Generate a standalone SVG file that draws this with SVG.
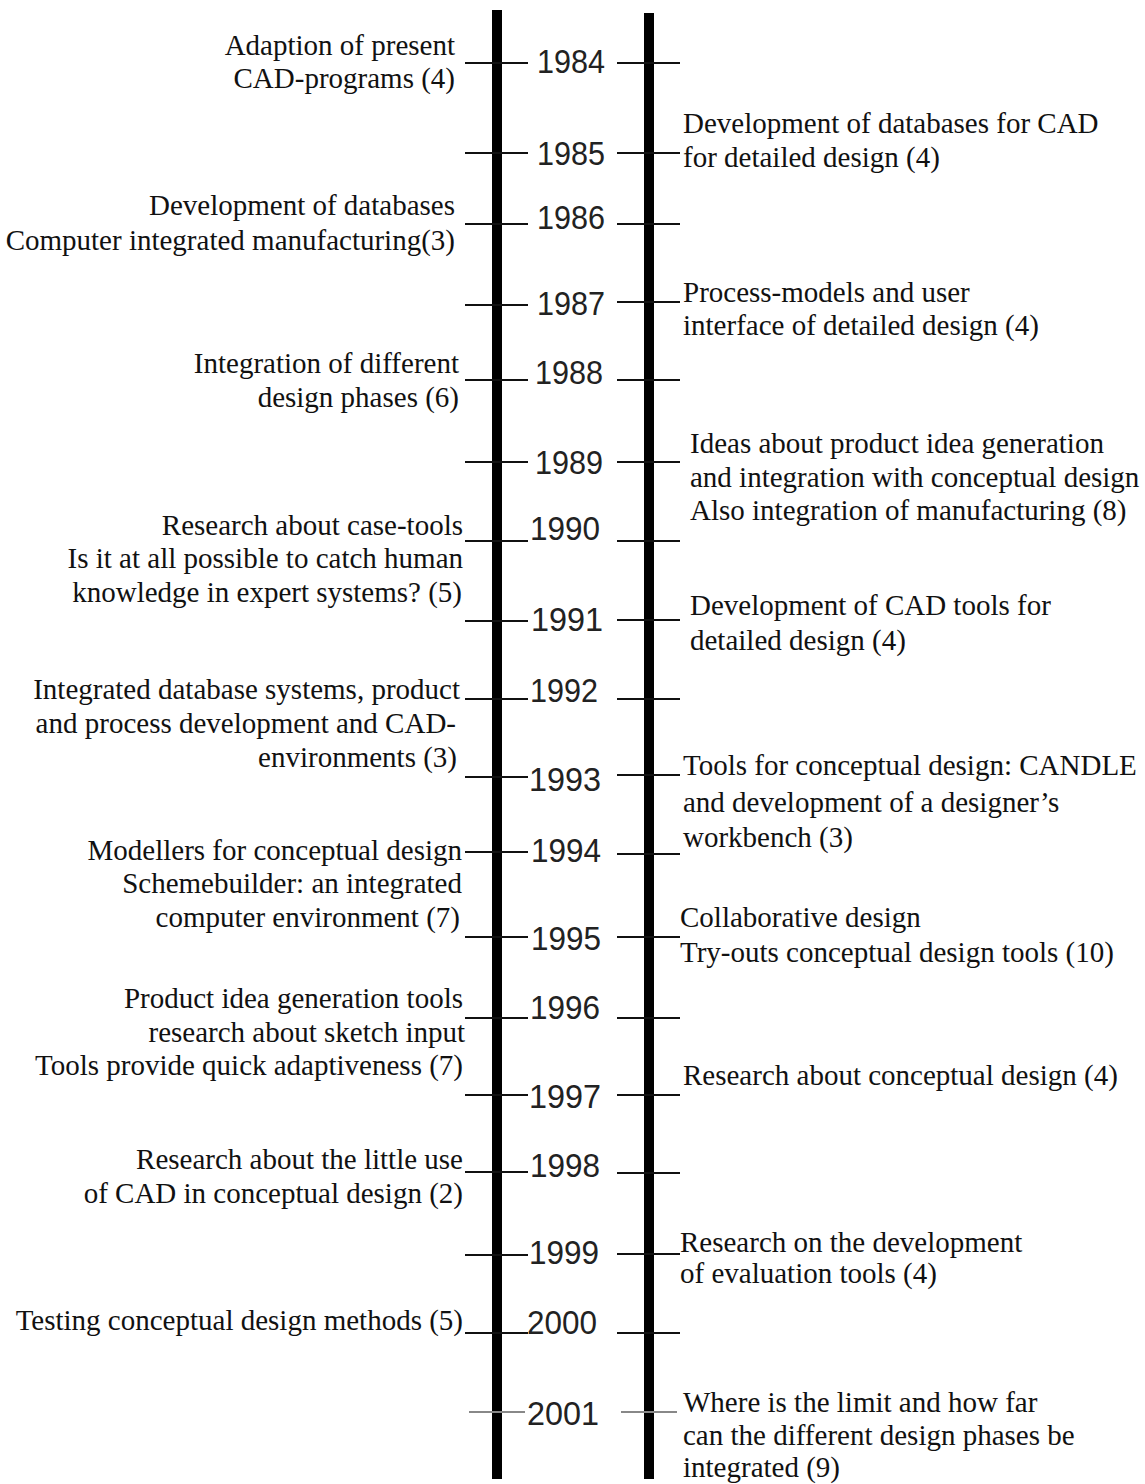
<svg xmlns="http://www.w3.org/2000/svg" width="1145" height="1484" viewBox="0 0 1145 1484">
<style>
.lbl{font-family:"Liberation Serif","DejaVu Serif",serif;font-size:29px;fill:#111}
.l{text-anchor:end}
.r{text-anchor:start}
.yr{font-family:"Liberation Sans","DejaVu Sans",sans-serif;font-size:33px;fill:#222;text-anchor:middle}
.tick{stroke:#111;stroke-width:2}
.tick2{stroke:#888;stroke-width:2}
.axis{fill:#000}
</style>
<rect width="1145" height="1484" fill="#fff"/>
<g id="axes">
<rect class="axis" x="492" y="10" width="10" height="1469"/>
<rect class="axis" x="644" y="13" width="10" height="1466"/>
</g>
<g id="connectors">
<path class="tick" d="M465 63H528M617 63H680
M465 153H528M617 153H680
M465 224H528M617 224H680
M465 305H528M617 302H680
M465 380H528M617 380H680
M465 462H528M617 462H680
M465 541H528M617 541H680
M465 621H528M617 620H680
M465 699H528M617 699H680
M465 777H528M617 775H680
M465 852H528M617 854H680
M465 937H528M617 937H680
M465 1018H528M617 1018H680
M465 1095H528M617 1095H680
M465 1172H528M617 1173H680
M465 1255H528M617 1254H680
M465 1333H528M617 1333H680"/>
<path class="tick2" d="M469 1412H525M621 1412H677"/>
</g>
<g id="years">
<text class="yr" x="571" y="73" textLength="68" lengthAdjust="spacingAndGlyphs">1984</text>
<text class="yr" x="571" y="165" textLength="68" lengthAdjust="spacingAndGlyphs">1985</text>
<text class="yr" x="571" y="229" textLength="68" lengthAdjust="spacingAndGlyphs">1986</text>
<text class="yr" x="571" y="315" textLength="68" lengthAdjust="spacingAndGlyphs">1987</text>
<text class="yr" x="569" y="384" textLength="68" lengthAdjust="spacingAndGlyphs">1988</text>
<text class="yr" x="569" y="474" textLength="68" lengthAdjust="spacingAndGlyphs">1989</text>
<text class="yr" x="565" y="540" textLength="70" lengthAdjust="spacingAndGlyphs">1990</text>
<text class="yr" x="567" y="631" textLength="72" lengthAdjust="spacingAndGlyphs">1991</text>
<text class="yr" x="564" y="702" textLength="68" lengthAdjust="spacingAndGlyphs">1992</text>
<text class="yr" x="565" y="791" textLength="72" lengthAdjust="spacingAndGlyphs">1993</text>
<text class="yr" x="566" y="862" textLength="70" lengthAdjust="spacingAndGlyphs">1994</text>
<text class="yr" x="566" y="950" textLength="70" lengthAdjust="spacingAndGlyphs">1995</text>
<text class="yr" x="565" y="1019" textLength="70" lengthAdjust="spacingAndGlyphs">1996</text>
<text class="yr" x="565" y="1108" textLength="72" lengthAdjust="spacingAndGlyphs">1997</text>
<text class="yr" x="565" y="1177" textLength="70" lengthAdjust="spacingAndGlyphs">1998</text>
<text class="yr" x="564" y="1264" textLength="70" lengthAdjust="spacingAndGlyphs">1999</text>
<text class="yr" x="562" y="1334" textLength="70" lengthAdjust="spacingAndGlyphs">2000</text>
<text class="yr" x="563" y="1425" textLength="72" lengthAdjust="spacingAndGlyphs" fill="#333">2001</text>
</g>
<g id="left-1984"><text class="lbl l" x="455" y="55">Adaption of present</text><text class="lbl l" x="455" y="88">CAD-programs (4)</text></g>
<g id="left-1986"><text class="lbl l" x="455" y="215">Development of databases</text><text class="lbl l" x="455" y="250">Computer integrated manufacturing(3)</text></g>
<g id="left-1988"><text class="lbl l" x="459" y="373">Integration of different</text><text class="lbl l" x="459" y="407">design phases (6)</text></g>
<g id="left-1990"><text class="lbl l" x="463" y="535">Research about case-tools</text><text class="lbl l" x="463" y="568">Is it at all possible to catch human</text><text class="lbl l" x="462" y="602">knowledge in expert systems? (5)</text></g>
<g id="left-1992"><text class="lbl l" x="460" y="699">Integrated database systems, product</text><text class="lbl l" x="456" y="733">and process development and CAD-</text><text class="lbl l" x="457" y="767">environments (3)</text></g>
<g id="left-1994"><text class="lbl l" x="462" y="860">Modellers for conceptual design</text><text class="lbl l" x="462" y="893">Schemebuilder: an integrated</text><text class="lbl l" x="460" y="927">computer environment (7)</text></g>
<g id="left-1996"><text class="lbl l" x="463" y="1008">Product idea generation tools</text><text class="lbl l" x="465" y="1042">research about sketch input</text><text class="lbl l" x="463" y="1075">Tools provide quick adaptiveness (7)</text></g>
<g id="left-1998"><text class="lbl l" x="463" y="1169">Research about the little use</text><text class="lbl l" x="463" y="1203">of CAD in conceptual design (2)</text></g>
<g id="left-2000"><text class="lbl l" x="463" y="1330">Testing conceptual design methods (5)</text></g>
<g id="right-1985"><text class="lbl r" x="683" y="133">Development of databases for CAD</text><text class="lbl r" x="683" y="167">for detailed design (4)</text></g>
<g id="right-1987"><text class="lbl r" x="683" y="302">Process-models and user</text><text class="lbl r" x="683" y="335">interface of detailed design (4)</text></g>
<g id="right-1989"><text class="lbl r" x="690" y="453">Ideas about product idea generation</text><text class="lbl r" x="690" y="487">and integration with conceptual design</text><text class="lbl r" x="690" y="520">Also integration of manufacturing (8)</text></g>
<g id="right-1991"><text class="lbl r" x="690" y="615">Development of CAD tools for</text><text class="lbl r" x="690" y="650">detailed design (4)</text></g>
<g id="right-1993"><text class="lbl r" x="683" y="775">Tools for conceptual design: CANDLE</text><text class="lbl r" x="683" y="812">and development of a designer’s</text><text class="lbl r" x="683" y="847">workbench (3)</text></g>
<g id="right-1995"><text class="lbl r" x="680" y="927">Collaborative design</text><text class="lbl r" x="680" y="962">Try-outs conceptual design tools (10)</text></g>
<g id="right-1997"><text class="lbl r" x="683" y="1085">Research about conceptual design (4)</text></g>
<g id="right-1999"><text class="lbl r" x="680" y="1252">Research on the development</text><text class="lbl r" x="680" y="1283">of evaluation tools (4)</text></g>
<g id="right-2001"><text class="lbl r" x="683" y="1412">Where is the limit and how far</text><text class="lbl r" x="683" y="1445">can the different design phases be</text><text class="lbl r" x="683" y="1477">integrated (9)</text></g>
</svg>
